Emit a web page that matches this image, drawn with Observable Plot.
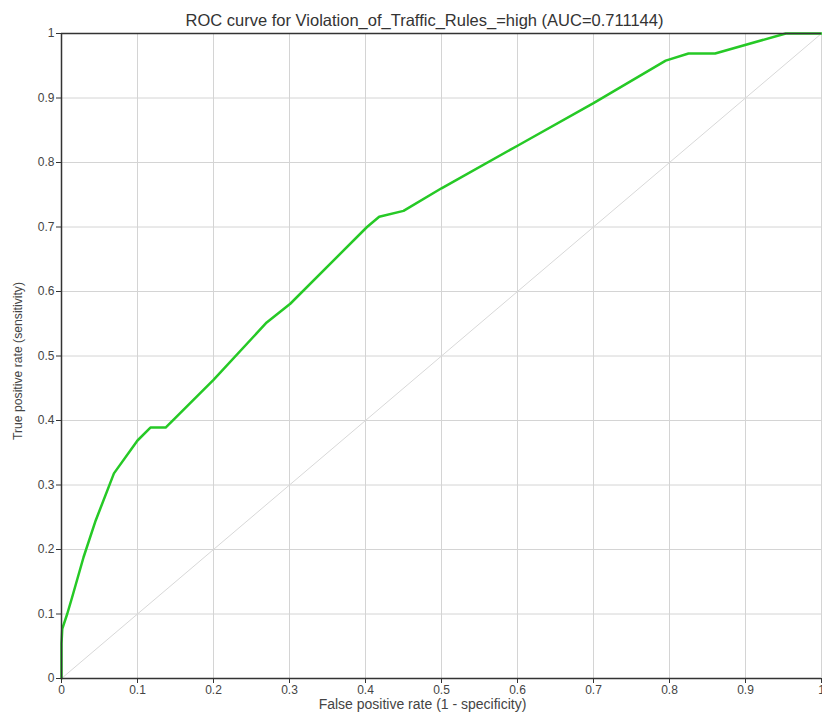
<!DOCTYPE html>
<html>
<head>
<meta charset="utf-8">
<script src="https://cdn.jsdelivr.net/npm/d3@7"></script>
<script src="https://cdn.jsdelivr.net/npm/@observablehq/plot@0.6"></script>
<style>
  html, body { margin: 0; padding: 0; background: #fff; }
  #chart svg { display: block; }
</style>
</head>
<body>
<div id="chart"></div>
<script>
const titleText = "ROC curve for Violation_of_Traffic_Rules_=high (AUC=0.711144)";
const xLabel = "False positive rate (1 - specificity)";
const yLabel = "True positive rate (sensitivity)";
const tickValues = [0, 0.1, 0.2, 0.3, 0.4, 0.5, 0.6, 0.7, 0.8, 0.9, 1];

const fpr = [0, 0, 0.001, 0.0075, 0.014, 0.029, 0.045, 0.069, 0.1, 0.117, 0.137, 0.2, 0.27, 0.301, 0.402, 0.418, 0.45, 0.5, 0.6, 0.7, 0.795, 0.825, 0.86, 0.953, 1];
const tpr = [0, 0.054, 0.077, 0.10, 0.126, 0.188, 0.245, 0.318, 0.369, 0.389, 0.389, 0.463, 0.552, 0.581, 0.70, 0.716, 0.725, 0.760, 0.826, 0.892, 0.958, 0.969, 0.969, 1, 1];

const diagX = [0, 1];
const diagY = [0, 1];

const roc = fpr.map((x, i) => ({x, y: tpr[i]}));
const diag = diagX.map((x, i) => ({x, y: diagY[i]}));

const font = "'Liberation Sans', Arial, sans-serif";

const chart = Plot.plot({
  width: 822,
  height: 716,
  marginTop: 33,
  marginBottom: 38,
  marginLeft: 61,
  marginRight: 1,
  style: {fontFamily: font, fontSize: "12px", color: "#444", background: "#fff"},
  x: {domain: [0, 1]},
  y: {domain: [0, 1]},
  marks: [
    Plot.gridX(tickValues, {stroke: "#d4d4d4", strokeOpacity: 1, strokeWidth: 1}),
    Plot.gridY(tickValues, {stroke: "#d4d4d4", strokeOpacity: 1, strokeWidth: 1}),
    Plot.line(diag, {x: "x", y: "y", stroke: "#d8d8d8", strokeWidth: 1}),
    Plot.line(roc, {x: "x", y: "y", stroke: "#26c926", strokeWidth: 2.5, strokeLinejoin: "round"}),
    Plot.ruleY([1], {stroke: "#333", strokeWidth: 1.5}),
    Plot.ruleY([0], {stroke: "#333", strokeWidth: 1.5}),
    Plot.ruleX([0], {stroke: "#333", strokeWidth: 1.5}),
    Plot.axisX({ticks: tickValues, tickSize: 5, tickPadding: 2, tickFormat: d => String(d), label: null, fontSize: 12, stroke: "#333"}),
    Plot.axisY({ticks: tickValues, tickSize: 5, tickPadding: 2, tickFormat: d => String(d), label: null, fontSize: 12, stroke: "#333"}),
    Plot.text([xLabel], {frameAnchor: "bottom", dx: -19, dy: 30, text: d => d, fontSize: 14, fill: "#444"}),
    Plot.text([yLabel], {frameAnchor: "left", textAnchor: "middle", rotate: -90, dx: -43, dy: 5, text: d => d, fontSize: 12.2, fill: "#444"}),
    Plot.text([titleText], {frameAnchor: "top", dx: -17, dy: -19, text: d => d, fontSize: 16.5, fill: "#333"})
  ]
});
document.getElementById("chart").appendChild(chart);
</script>
</body>
</html>
